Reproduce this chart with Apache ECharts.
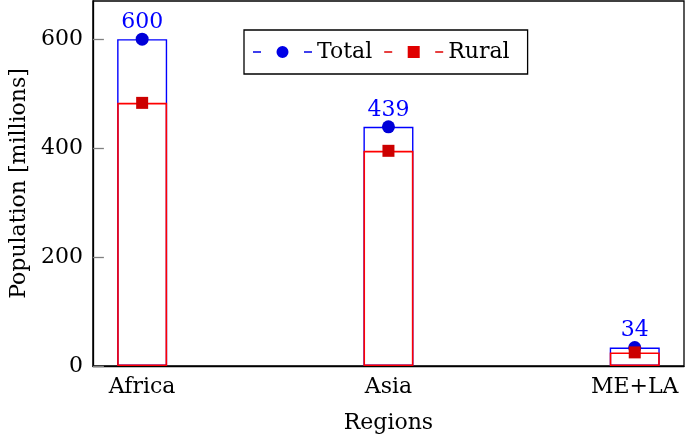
<!DOCTYPE html>
<html>
<head>
<meta charset="utf-8">
<script src="https://cdn.jsdelivr.net/npm/echarts@6/dist/echarts.min.js"></script>
<style>
  html, body { margin: 0; padding: 0; background: #fff; }
  #chart { width: 685px; height: 439px; }
</style>
</head>
<body>
<div id="chart"></div>
<script>
// data
var categories = ['Africa', 'Asia', 'ME+LA'];
var totalPop = [600, 439, 34];
var ruralPop = [483, 395, 25];
var yTicks = [0, 200, 400, 600];
var catPos = [0, 1, 2];

var font = 'DejaVu Serif';

// legend icons: dash - mark - dash
var totalIcon = 'path://M0 5.3h8v1.4h-8z M51 5.3h8v1.4h-8z M23.5 6a6 6 0 1 0 12 0a6 6 0 1 0 -12 0z';
var ruralIcon = 'path://M0 5.3h8v1.4h-8z M51 5.3h8v1.4h-8z M23.5 0h12v12h-12z';

function pairs(vals) {
    return vals.map(function (v, i) { return [catPos[i], v]; });
}

var dom = document.getElementById('chart');
var myChart = echarts.init(dom);

var option = {
    animation: false,
    textStyle: { fontFamily: font },
    grid: {
        left: 92, right: 1, top: 1, bottom: 71,
        show: true, borderColor: '#000', borderWidth: 1.3
    },
    legend: {
        left: 244, top: 30,
        padding: [11, 18, 11, 9],
        borderColor: '#000', borderWidth: 1.3,
        itemWidth: 59, itemHeight: 12, itemGap: 12,
        textStyle: { fontFamily: font, fontSize: 22, color: '#000' },
        data: [
            { name: 'Total', icon: totalIcon, itemStyle: { color: '#0000e6', borderWidth: 0 } },
            { name: 'Rural', icon: ruralIcon, itemStyle: { color: '#e00000', borderWidth: 0 } }
        ]
    },
    xAxis: {
        type: 'value',
        min: -0.2, max: 2.2,
        name: 'Regions',
        nameLocation: 'middle',
        nameGap: 46,
        nameTextStyle: { fontFamily: font, fontSize: 22, color: '#000' },
        splitLine: { show: false },
        axisLine: { onZero: false, lineStyle: { color: '#000', width: 1.3 } },
        axisTick: { show: false },
        axisLabel: {
            customValues: catPos,
            formatter: function (v) { return categories[Math.round(v)]; },
            fontFamily: font, fontSize: 22, color: '#000', margin: 10
        }
    },
    yAxis: {
        type: 'value',
        min: 0, max: 670,
        name: 'Population [millions]',
        nameLocation: 'middle',
        nameGap: 62,
        nameTextStyle: { fontFamily: font, fontSize: 22, color: '#000' },
        splitLine: { show: false },
        axisLine: { show: true, onZero: false, lineStyle: { color: '#000', width: 1.3 } },
        axisTick: {
            customValues: yTicks, inside: true, length: 11,
            lineStyle: { color: '#808080', width: 1.3 }
        },
        axisLabel: {
            customValues: yTicks,
            fontFamily: font, fontSize: 22, color: '#000', margin: 10
        }
    },
    series: [
        {
            name: 'Total', type: 'bar',
            data: pairs(totalPop),
            barWidth: 50, barGap: '-100%',
            itemStyle: { color: 'rgba(0,0,0,0)', borderColor: '#0000ff', borderWidth: 1.4 },
            label: {
                show: true, position: 'top', distance: 6,
                formatter: function (p) { return p.value[1]; },
                fontFamily: font, fontSize: 22, color: '#0000ff'
            },
            z: 2
        },
        {
            name: 'Rural', type: 'bar',
            data: pairs(ruralPop),
            barWidth: 50, barGap: '-100%',
            itemStyle: { color: 'rgba(0,0,0,0)', borderColor: '#ff0000', borderWidth: 1.6 },
            z: 3
        },
        {
            name: 'Total', type: 'scatter',
            data: pairs(totalPop),
            symbol: 'circle', symbolSize: 13,
            itemStyle: { color: '#0000d8', opacity: 1 },
            z: 5
        },
        {
            name: 'Rural', type: 'scatter',
            data: pairs(ruralPop),
            symbol: 'rect', symbolSize: 12,
            itemStyle: { color: '#cc0000', opacity: 1 },
            z: 5
        }
    ]
};

myChart.setOption(option);
</script>
</body>
</html>
